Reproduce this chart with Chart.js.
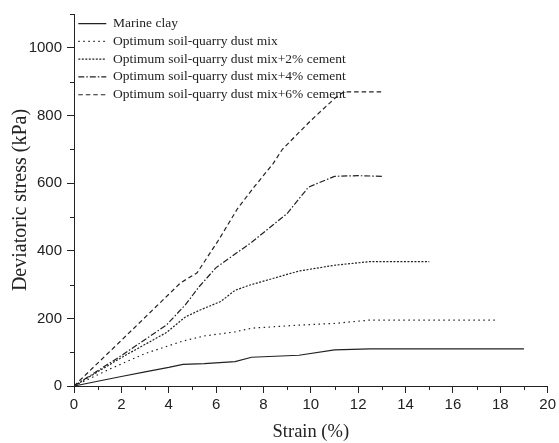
<!DOCTYPE html>
<html>
<head>
<meta charset="utf-8">
<script src="https://cdn.jsdelivr.net/npm/chart.js@4"></script>
<style>
  html, body { margin: 0; padding: 0; background: #fff; }
  #wrap { width: 559px; height: 443px; }
</style>
</head>
<body>
<div id="wrap"><canvas id="chart" width="559" height="443"></canvas></div>
<script>
// strain (%) / deviatoric stress (kPa)
const seriesLabels = [
    "Marine clay",
    "Optimum soil-quarry dust mix",
    "Optimum soil-quarry dust mix+2% cement",
    "Optimum soil-quarry dust mix+4% cement",
    "Optimum soil-quarry dust mix+6% cement",
];

const clayX = [0, 1, 2, 3, 4, 4.6, 5.5, 6.8, 7.5, 9.5, 11, 12.5, 19];
const clayY = [0, 14, 28, 42, 55, 64, 66, 72, 85, 91, 107, 110, 110];

const optX = [0, 1.6, 3, 4.6, 5.5, 6.8, 7.5, 9.5, 11, 12.5, 17.9];
const optY = [0, 53, 96, 133, 148, 160, 171, 180, 185, 195, 195];

const c2X = [0, 2, 3.9, 4.7, 5.3, 6.2, 6.8, 7.4, 8.5, 9.5, 11, 12.5, 15];
const c2Y = [0, 84, 158, 204, 224, 250, 283, 298, 320, 340, 357, 368, 368];

const c4X = [0, 2, 3.9, 4.7, 5.3, 6, 6.8, 7.5, 9, 9.9, 11, 12, 13];
const c4Y = [0, 90, 180, 240, 295, 350, 390, 425, 510, 588, 620, 622, 620];

const c6X = [0, 2, 4.5, 5.2, 6.1, 6.9, 7.6, 8.4, 8.8, 10, 11, 11.4, 13];
const c6Y = [0, 135, 305, 335, 431, 524, 588, 657, 700, 785, 850, 870, 870];

const xTicks = [0, 2, 4, 6, 8, 10, 12, 14, 16, 18, 20];
const yTicks = [0, 200, 400, 600, 800, 1000];

const ink = "#222";

function pts(xs, ys) {
    return xs.map((x, i) => ({ x: x, y: ys[i] }));
}

function line(label, xs, ys, dash) {
    return {
        label: label,
        data: pts(xs, ys),
        borderColor: ink,
        backgroundColor: ink,
        borderWidth: 1.2,
        borderDash: dash,
        pointRadius: 0,
        tension: 0,
        fill: false,
    };
}

// small in-between ticks, drawn outward like the major ones
const minorTicks = {
    id: "minorTicks",
    afterDraw(chart) {
        const ctx = chart.ctx;
        const xs = chart.scales.x;
        const ys = chart.scales.y;
        ctx.save();
        ctx.strokeStyle = ink;
        ctx.lineWidth = 1;
        ctx.beginPath();
        for (let v = 1; v < 20; v += 2) {
            const px = Math.round(xs.getPixelForValue(v)) + 0.5;
            ctx.moveTo(px, ys.bottom);
            ctx.lineTo(px, ys.bottom + 4);
        }
        for (let v = 100; v <= 1100; v += 200) {
            const py = Math.round(ys.getPixelForValue(v)) + 0.5;
            ctx.moveTo(xs.left, py);
            ctx.lineTo(xs.left - 4, py);
        }
        ctx.stroke();
        ctx.restore();
    },
};

// the chartArea legend is laid out from y=0; move it into the plot box
const legendInside = {
    id: "legendInside",
    afterLayout(chart) {
        const lg = chart.legend;
        if (!lg) return;
        const h = lg.height;
        lg.top = chart.chartArea.top - 1.5;
        lg.bottom = lg.top + h;
    },
};

const ctx = document.getElementById("chart").getContext("2d");
const chart = new Chart(ctx, {
    type: "line",
    data: {
        datasets: [
            line(seriesLabels[0], clayX, clayY, []),
            line(seriesLabels[1], optX, optY, [1.5, 3.5]),
            line(seriesLabels[2], c2X, c2Y, [2, 1.5]),
            line(seriesLabels[3], c4X, c4Y, [6, 2, 1.5, 2]),
            line(seriesLabels[4], c6X, c6Y, [4.5, 3]),
        ],
    },
    options: {
        responsive: false,
        animation: false,
        layout: { padding: { left: 0, top: 13, right: 10, bottom: 0 } },
        plugins: {
            tooltip: { enabled: false },
            legend: {
                position: "chartArea",
                align: "start",
                labels: {
                    usePointStyle: true,
                    pointStyle: "line",
                    pointStyleWidth: 28,
                    padding: 4.3,
                    color: ink,
                    font: { family: "'Liberation Serif', 'Times New Roman', serif", size: 13.5 },
                    generateLabels(chart) {
                        const items = Chart.defaults.plugins.legend.labels.generateLabels(chart);
                        items.forEach((it) => {
                            const ds = chart.data.datasets[it.datasetIndex];
                            it.lineDash = ds.borderDash;
                            it.strokeStyle = ink;
                            it.lineWidth = 1.2;
                        });
                        return items;
                    },
                },
            },
        },
        scales: {
            x: {
                type: "linear",
                min: 0,
                max: 20,
                afterFit(scale) { scale.height = 57; },
                afterBuildTicks(axis) { axis.ticks = xTicks.map((v) => ({ value: v })); },
                border: { display: true, color: ink, width: 1 },
                grid: { drawOnChartArea: false, drawTicks: true, tickLength: 7, color: ink },
                ticks: {
                    color: ink,
                    padding: 3,
                    maxRotation: 0,
                    callback: (v) => String(v),
                    font: { family: "'Liberation Sans', Arial, sans-serif", size: 15 },
                },
                title: {
                    display: true,
                    text: "Strain (%)",
                    color: ink,
                    padding: { top: 0, bottom: 0 },
                    font: { family: "'Liberation Serif', 'Times New Roman', serif", size: 18.5 },
                },
            },
            y: {
                type: "linear",
                min: 0,
                max: 1100,
                afterFit(scale) { scale.width = 74; },
                afterBuildTicks(axis) { axis.ticks = yTicks.map((v) => ({ value: v })); },
                border: { display: true, color: ink, width: 1 },
                grid: { drawOnChartArea: false, drawTicks: true, tickLength: 7, color: ink },
                ticks: {
                    color: ink,
                    padding: 5,
                    callback: (v) => String(v),
                    font: { family: "'Liberation Sans', Arial, sans-serif", size: 15 },
                },
                title: {
                    display: true,
                    text: "Deviatoric stress (kPa)",
                    color: ink,
                    padding: { top: 9, bottom: 0 },
                    font: { family: "'Liberation Serif', 'Times New Roman', serif", size: 20 },
                },
            },
        },
    },
    plugins: [minorTicks, legendInside],
});
</script>
</body>
</html>
